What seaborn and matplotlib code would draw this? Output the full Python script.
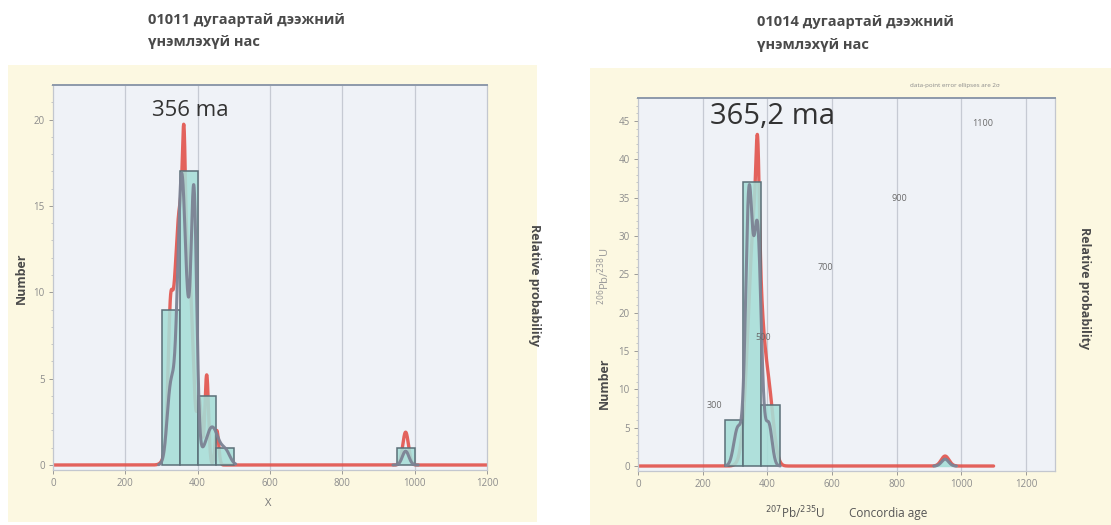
import numpy as np
import pandas as pd
import seaborn as sns
import matplotlib.pyplot as plt
from matplotlib.patches import Rectangle
from matplotlib.ticker import AutoMinorLocator

sns.set_theme(style="white")
plt.rcParams['font.family'] = ['Open Sans', 'DejaVu Sans']

W, H = 1111, 525

# ---- sample 01011 ----
titleL = ["01011 дугаартай дээжний", "үнэмлэхүй нас"]
ageL = "356 ma"
binsL_main = [300, 350, 400, 450, 500]
countsL_main = [9, 17, 4, 1]
binsL_far = [950, 1000]
countsL_far = [1]
# probability-density components: (age, sigma, amplitude)
redL = [(324, 6, 5.0), (352, 18, 15.0), (362, 4, 6.0), (380, 9, 6.0),
        (405, 6, 3.5), (425, 5, 5.2), (453, 5, 2.0), (975, 8, 1.9)]
grayL = [(325, 10, 4.0), (354, 10, 10.0), (365, 18, 8.0), (390, 7.5, 13.0),
         (440, 18, 2.2), (478, 12, 0.7), (975, 9, 0.8)]
gray_spansL = [(292, 505), (940, 1010)]
red_spanL = (0, 1200)
xlimL, ylimL = (0, 1200), (-0.29, 22)
yticksL = [0, 5, 10, 15, 20]

# ---- sample 01014 ----
titleR = ["01014 дугаартай дээжний", "үнэмлэхүй нас"]
ageR = "365,2 ma"
binsR = [270, 326, 382, 438]
countsR = [6, 37, 8]
redR = [(370, 5, 12.0), (362, 20, 33.0), (405, 15, 8.0), (950, 12, 1.3)]
grayR = [(308, 12, 4.5), (343, 10, 30.0), (356, 22, 6.0), (370, 11, 26.0),
         (405, 10, 5.0), (950, 11, 0.9)]
gray_spansR = [(272, 440), (915, 985)]
red_spanR = (0, 1100)
xlimR, ylimR = (0, 1290), (-0.65, 48)
yticksR = [0, 5, 10, 15, 20, 25, 30, 35, 40, 45]
concordia_ages = ["300", "500", "700", "900", "1100"]
concordia_pos = [(714, 405), (763, 338), (825, 268), (899, 198), (983, 123)]

xticks = [0, 200, 400, 600, 800, 1000, 1200]

RED = "#e2524b"
GRAY = "#7c8294"
BAR = "#a6ded8"
BAR_EDGE = "#5b6f78"
CREAM = "#fcf8e1"
PLOT_BG = "#eff2f7"
TXT = "#4a4a4a"
TICK = "#8c8c8c"


def fx(x):
    return x / W


def fy(y):
    return 1 - y / H


def density(comps, x):
    x = np.asarray(x, dtype=float)
    y = np.zeros_like(x)
    for mu, s, a in comps:
        y += a * np.exp(-(x - mu) ** 2 / (2 * s * s))
    return y


fig = plt.figure(figsize=(W / 100, H / 100), dpi=100)
fig.patch.set_facecolor("white")

# cream backing panels
for (x0, y0, x1, y1) in [(8, 65, 537, 522), (590, 68, 1111, 525)]:
    fig.patches.append(Rectangle((fx(x0), fy(y1)), fx(x1 - x0), (y1 - y0) / H,
                                 transform=fig.transFigure, facecolor=CREAM,
                                 edgecolor="none", zorder=-10))

axL = fig.add_axes([fx(53), fy(470), fx(487 - 53), (470 - 85) / H])
axR = fig.add_axes([fx(638), fy(471), fx(1055 - 638), (471 - 98) / H])


def draw_panel(ax, hist_groups, red, gray, gray_spans, red_span, xlim, ylim, yticks):
    ax.set_facecolor(PLOT_BG)
    for v in xticks:
        if xlim[0] < v < xlim[1]:
            ax.axvline(v, color="#c6cad3", lw=0.9, zorder=0.5)

    xr = np.linspace(red_span[0], red_span[1], 3000)
    sns.lineplot(x=xr, y=density(red, xr), ax=ax, color=RED, lw=2.4,
                 alpha=0.9, zorder=1, estimator=None, sort=False)

    for edges, counts in hist_groups:
        centers = [(a + b) / 2 for a, b in zip(edges[:-1], edges[1:])]
        sns.histplot(x=centers, weights=counts, bins=edges, ax=ax, color=BAR,
                     edgecolor=BAR_EDGE, linewidth=1.1, alpha=0.88, zorder=2)

    for a, b in gray_spans:
        xg = np.linspace(a, b, 600)
        sns.lineplot(x=xg, y=density(gray, xg), ax=ax, color=GRAY, lw=2.2,
                     alpha=0.95, zorder=3, estimator=None, sort=False)

    ax.set_xlim(*xlim)
    ax.set_ylim(*ylim)
    ax.set_xticks(xticks)
    ax.set_yticks(yticks)
    ax.yaxis.set_minor_locator(AutoMinorLocator(5))
    ax.set_xlabel("")
    ax.set_ylabel("")
    ax.tick_params(axis="both", labelsize=7, colors=TICK, length=3, width=0.6,
                   direction="out", bottom=True, left=True, pad=3)
    ax.tick_params(axis="y", which="minor", left=True, length=1.5, width=0.5,
                   colors="#b0b4bb")
    for lbl in ax.get_xticklabels() + ax.get_yticklabels():
        lbl.set_color(TICK)
    for side in ["left", "right", "bottom"]:
        ax.spines[side].set_color("#c3c7cf")
        ax.spines[side].set_linewidth(0.9)
    ax.spines["top"].set_color("#8d99aa")
    ax.spines["top"].set_linewidth(1.4)


draw_panel(axL, [(binsL_main, countsL_main), (binsL_far, countsL_far)],
           redL, grayL, gray_spansL, red_spanL, xlimL, ylimL, yticksL)
draw_panel(axR, [(binsR, countsR)],
           redR, grayR, gray_spansR, red_spanR, xlimR, ylimR, yticksR)

# teal fill under the small old-grain peak in 01014
xb = np.linspace(gray_spansR[1][0], gray_spansR[1][1], 200)
axR.fill_between(xb, 0, density(grayR, xb), color=BAR, alpha=0.9, zorder=2.5)

# titles
for lines, x0, ys in [(titleL, 148, (20, 42)), (titleR, 757, (22, 45))]:
    for line, yy in zip(lines, ys):
        fig.text(fx(x0), fy(yy), line, fontsize=10.5, fontweight="bold",
                 color=TXT, ha="left", va="center")

# age annotations
fig.text(fx(190), fy(110), ageL, fontsize=16, color="#333333",
         ha="center", va="center")
fig.text(fx(773), fy(117), ageR, fontsize=21, color="#333333",
         ha="center", va="center")

# axis titles
fig.text(fx(21), fy(278), "Number", rotation=90, fontsize=9, fontweight="bold",
         color=TXT, ha="center", va="center")
fig.text(fx(535), fy(285), "Relative probability", rotation=270, fontsize=9,
         fontweight="bold", color=TXT, ha="center", va="center")
fig.text(fx(268), fy(503), "X", fontsize=8, color="#777777", ha="center", va="center")

fig.text(fx(604), fy(383), "Number", rotation=90, fontsize=9, fontweight="bold",
         color=TXT, ha="center", va="center")
fig.text(fx(604), fy(276), "$^{206}$Pb/$^{238}$U", rotation=90, fontsize=8,
         color="#9a9a9a", ha="center", va="center")
fig.text(fx(1085), fy(288), "Relative probability", rotation=270, fontsize=9,
         fontweight="bold", color=TXT, ha="center", va="center")
fig.text(fx(795), fy(513), "$^{207}$Pb/$^{235}$U", fontsize=8.5,
         color="#555555", ha="center", va="center")
fig.text(fx(888), fy(513), "Concordia age", fontsize=8.5,
         color="#555555", ha="center", va="center")
fig.text(fx(955), fy(85), "data-point error ellipses are 2σ", fontsize=4.5,
         color="#8a8a8a", ha="center", va="center")

for lbl, (px_, py_) in zip(concordia_ages, concordia_pos):
    fig.text(fx(px_), fy(py_), lbl, fontsize=6.5, color="#6a6a6a",
             ha="center", va="center")

fig.savefig("out.png", dpi=100, facecolor=fig.get_facecolor())
